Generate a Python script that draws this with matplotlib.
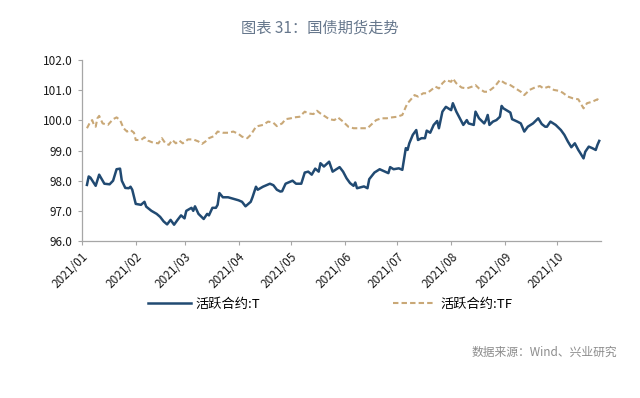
import matplotlib
matplotlib.use("Agg")
import matplotlib.pyplot as plt
import matplotlib.dates as mdates
import pandas as pd

plt.rcParams['font.family'] = ['Noto Sans CJK SC', 'DejaVu Sans']

# 活跃合约 T: day offset from 2021-01-01, price
t_days = [3, 4, 5, 8, 10, 13, 16, 18, 20, 22, 23, 25, 27, 28, 29, 31, 34, 36, 37, 40,
          43, 45, 47, 49, 51, 53, 55, 57, 59, 60, 63, 64, 65, 67, 70, 72, 73, 75, 77, 78,
          79, 81, 84, 87, 90, 92, 94, 97, 98, 100, 101, 104, 108, 110, 112, 114, 115, 117, 119, 121,
          123, 126, 128, 130, 132, 134, 136, 137, 139, 142, 144, 148, 150, 152, 154, 156, 157, 158, 162, 164,
          165, 168, 171, 174, 176, 177, 179, 182, 184, 186, 187, 188, 190, 192, 193, 195, 197, 198, 200, 202,
          204, 205, 207, 209, 212, 213, 215, 218, 219, 221, 222, 225, 226, 228, 231, 232, 233, 234, 236, 238,
          240, 241, 242, 246, 247, 250, 252, 254, 256, 259, 262, 264, 266, 267, 269, 272, 275, 277, 279, 281,
          283, 285, 286, 288, 289, 291, 293, 295, 296, 297]
t_vals = [97.86, 98.14, 98.10, 97.83, 98.20, 97.90, 97.88, 98.00, 98.38, 98.40, 98.00, 97.76, 97.75, 97.80, 97.70, 97.23, 97.20, 97.30, 97.14, 97.00,
          96.90, 96.80, 96.65, 96.55, 96.70, 96.54, 96.70, 96.85, 96.75, 97.00, 97.10, 97.00, 97.15, 96.90, 96.73, 96.90, 96.85, 97.10, 97.10, 97.20,
          97.59, 97.45, 97.45, 97.40, 97.35, 97.30, 97.15, 97.30, 97.45, 97.80, 97.70, 97.80, 97.90, 97.85, 97.70, 97.64, 97.65, 97.90, 97.95, 98.00,
          97.90, 97.90, 98.27, 98.30, 98.20, 98.40, 98.30, 98.58, 98.47, 98.63, 98.30, 98.45, 98.30, 98.08, 97.92, 97.83, 97.94, 97.75, 97.81, 97.75,
          98.05, 98.27, 98.38, 98.30, 98.25, 98.45, 98.38, 98.41, 98.36, 99.08, 99.02, 99.24, 99.52, 99.68, 99.35, 99.41, 99.41, 99.66, 99.59, 99.85,
          99.98, 99.74, 100.29, 100.45, 100.34, 100.57, 100.29, 99.96, 99.85, 100.01, 99.90, 99.85, 100.29, 100.07, 99.90, 100.01, 100.18, 99.85, 99.96, 100.01,
          100.12, 100.48, 100.40, 100.26, 100.04, 99.96, 99.90, 99.63, 99.79, 99.90, 100.07, 99.88, 99.79, 99.79, 99.96, 99.85, 99.68, 99.52, 99.30, 99.11,
          99.24, 99.02, 98.93, 98.74, 98.96, 99.13, 99.08, 99.02, 99.19, 99.32]

# 活跃合约 TF
tf_days = [3, 5, 6, 7, 8, 9, 10, 12, 15, 18, 20, 22, 24, 26, 28, 30, 31, 34, 36, 38,
           41, 44, 46, 48, 50, 52, 54, 56, 58, 61, 64, 67, 69, 71, 73, 76, 78, 81, 84, 87,
           90, 92, 95, 97, 100, 101, 104, 107, 110, 112, 115, 117, 120, 122, 125, 128, 130, 133, 135, 137,
           140, 142, 145, 147, 150, 153, 156, 159, 162, 164, 166, 169, 172, 175, 178, 181, 184, 186, 187, 189,
           191, 193, 196, 198, 200, 203, 205, 207, 209, 212, 213, 215, 218, 221, 224, 226, 228, 231, 233, 235,
           237, 240, 243, 246, 249, 252, 254, 257, 260, 263, 265, 268, 271, 274, 276, 279, 282, 285, 288, 290,
           293, 296, 297]
tf_vals = [99.74, 99.96, 100.01, 99.85, 99.79, 100.07, 100.15, 99.90, 99.85, 100.04, 100.10, 100.01, 99.74, 99.63, 99.68, 99.59, 99.35, 99.35, 99.44, 99.33,
           99.26, 99.24, 99.41, 99.24, 99.19, 99.35, 99.24, 99.33, 99.24, 99.37, 99.37, 99.30, 99.22, 99.30, 99.41, 99.48, 99.63, 99.59, 99.59, 99.63,
           99.55, 99.46, 99.41, 99.52, 99.79, 99.81, 99.85, 99.96, 99.92, 99.81, 99.90, 100.04, 100.07, 100.10, 100.12, 100.29, 100.23, 100.21, 100.32, 100.23,
           100.12, 100.04, 100.01, 100.10, 99.96, 99.79, 99.74, 99.74, 99.74, 99.74, 99.85, 100.01, 100.07, 100.07, 100.10, 100.12, 100.18, 100.45, 100.57, 100.70,
           100.84, 100.79, 100.90, 100.90, 100.98, 101.12, 101.06, 101.23, 101.34, 101.28, 101.39, 101.23, 101.09, 101.06, 101.12, 101.17, 101.06, 100.95, 100.95, 101.03,
           101.12, 101.34, 101.23, 101.17, 101.06, 100.95, 100.84, 101.01, 101.09, 101.14, 101.06, 101.12, 101.01, 100.98, 100.92, 100.79, 100.73, 100.70, 100.40, 100.57,
           100.62, 100.70, 100.65]

start = pd.Timestamp("2021-01-01")
t_dates = start + pd.to_timedelta(t_days, unit="D")
tf_dates = start + pd.to_timedelta(tf_days, unit="D")

fig = plt.figure(figsize=(6.4, 3.98), dpi=100)
ax = fig.add_axes([0.1277, 0.3945, 0.8113, 0.4545])

ax.plot(t_dates, t_vals, color="#214a72", linewidth=1.8, label="活跃合约:T")
ax.plot(tf_dates, tf_vals, color="#c9a877", linewidth=1.5, linestyle=(0, (2.6, 1.5)), label="活跃合约:TF")

ax.set_ylim(96, 102)
ax.set_yticks([96, 97, 98, 99, 100, 101, 102])
ax.set_yticklabels(["%.1f" % v for v in [96, 97, 98, 99, 100, 101, 102]])
ax.set_xlim(start, start + pd.Timedelta(days=298))
ax.xaxis.set_major_locator(mdates.MonthLocator())
ax.xaxis.set_major_formatter(mdates.DateFormatter("%Y/%m"))

for s in ["top", "right"]:
    ax.spines[s].set_visible(False)
for s in ["left", "bottom"]:
    ax.spines[s].set_color("#a6a6a6")
    ax.spines[s].set_linewidth(0.9)
ax.tick_params(axis="both", colors="#a6a6a6", length=3, width=0.8, labelcolor="#1a1a1a", labelsize=8.5)
plt.setp(ax.get_xticklabels(), rotation=45, ha="right", rotation_mode="anchor")

fig.text(0.5, 0.93, "图表 31：国债期货走势", ha="center", va="center", fontsize=11, color="#66778c")
fig.legend(loc="center", bbox_to_anchor=(0.516, 0.235), ncol=2, frameon=False, fontsize=9.5,
           columnspacing=10, handlelength=3.2, handletextpad=0.4)
fig.text(0.965, 0.115, "数据来源：Wind、兴业研究", ha="right", va="center", fontsize=8.5, color="#8c8c8c")

fig.savefig("out.png", dpi=100)
